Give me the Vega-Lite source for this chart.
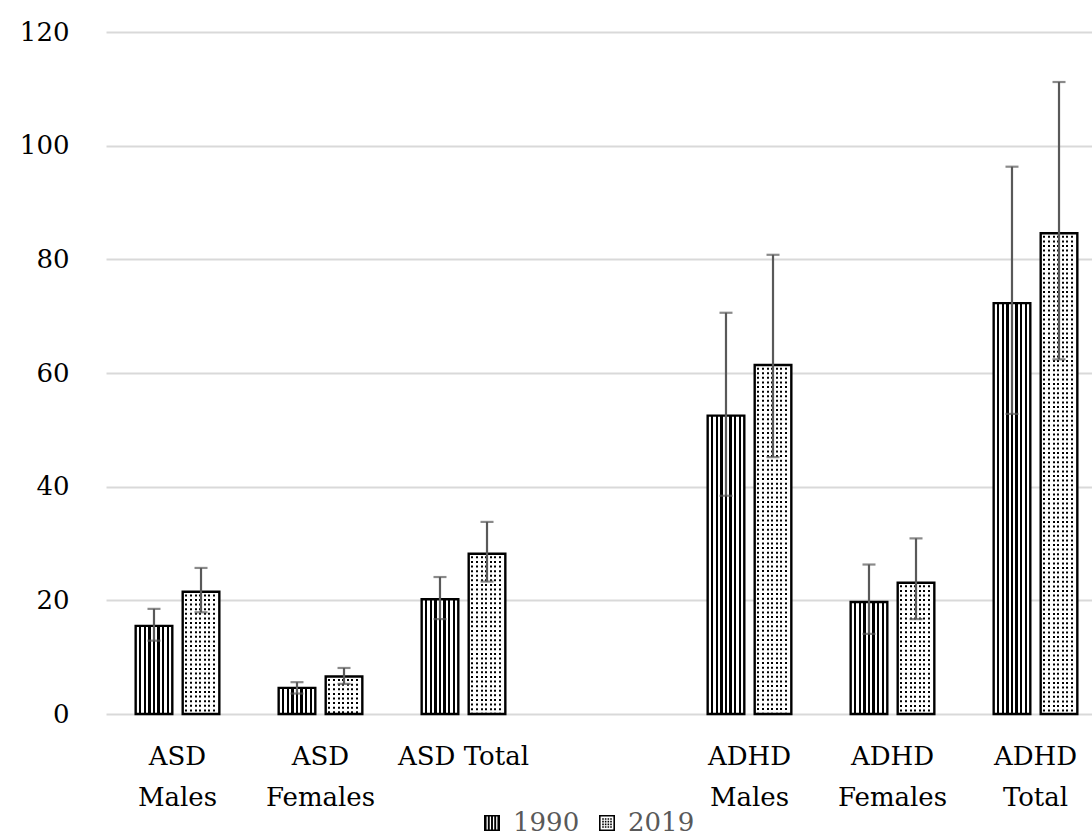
{
  "$schema": "https://vega.github.io/schema/vega-lite/v6.json",
  "autosize": "none",
  "width": 986,
  "height": 682,
  "padding": {"left": 106, "top": 32, "right": 0, "bottom": 124},
  "background": "white",
  "config": {
    "view": {"stroke": null},
    "font": "DejaVu Serif",
    "axis": {"labelFont": "DejaVu Serif", "labelColor": "#000000", "ticks": false, "domain": false, "title": null},
    "legend": {"labelFont": "DejaVu Serif"}
  },
  "data": {
    "values": [
      {"cat": "ASD|Males", "year": "1990", "value": 15.5, "low": 12.9, "high": 18.5},
      {"cat": "ASD|Males", "year": "2019", "value": 21.5, "low": 17.9, "high": 25.7},
      {"cat": "ASD|Females", "year": "1990", "value": 4.6, "low": 3.6, "high": 5.6},
      {"cat": "ASD|Females", "year": "2019", "value": 6.6, "low": 5.3, "high": 8.1},
      {"cat": "ASD Total", "year": "1990", "value": 20.2, "low": 16.7, "high": 24.1},
      {"cat": "ASD Total", "year": "2019", "value": 28.2, "low": 23.3, "high": 33.8},
      {"cat": "ADHD|Males", "year": "1990", "value": 52.5, "low": 38.4, "high": 70.6},
      {"cat": "ADHD|Males", "year": "2019", "value": 61.4, "low": 45.2, "high": 80.8},
      {"cat": "ADHD|Females", "year": "1990", "value": 19.7, "low": 14.1, "high": 26.3},
      {"cat": "ADHD|Females", "year": "2019", "value": 23.1, "low": 16.7, "high": 30.9},
      {"cat": "ADHD|Total", "year": "1990", "value": 72.3, "low": 52.8, "high": 96.3},
      {"cat": "ADHD|Total", "year": "2019", "value": 84.6, "low": 62.4, "high": 111.2}
    ]
  },
  "encoding": {
    "x": {
      "field": "cat", "type": "nominal",
      "scale": {"domain": ["ASD|Males", "ASD|Females", "ASD Total", "gap", "ADHD|Males", "ADHD|Females", "ADHD|Total"], "range": [0, 1001], "paddingInner": 0.415, "paddingOuter": 0.2075},
      "axis": {"labelAngle": 0, "labelFontSize": 26, "labelPadding": 29, "labelLineHeight": 41, "grid": false, "labelExpr": "datum.value == 'gap' ? '' : split(datum.value, '|')"}
    },
    "xOffset": {"field": "year", "type": "nominal", "scale": {"domain": ["1990", "2019"], "paddingInner": 0.221, "paddingOuter": 0}}
  },
  "layer": [
    {
      "mark": {"type": "bar", "strokeWidth": 0},
      "encoding": {
        "y": {"field": "value", "type": "quantitative", "scale": {"domain": [0, 120], "nice": false},
          "axis": {"values": [0, 20, 40, 60, 80, 100, 120], "labelFontSize": 26, "labelPadding": 37, "grid": true, "gridColor": "#d9d9d9", "gridWidth": 2}},
        "fill": {
          "condition": {"test": "datum.year == '1990'", "value":
            {"gradient": "linear", "x1": 0, "x2": 1, "y1": 0, "y2": 0, "stops": [
              {"offset": 0, "color": "white"},
              {"offset": 0.0925, "color": "white"}, {"offset": 0.0925, "color": "black"}, {"offset": 0.1575, "color": "black"}, {"offset": 0.1575, "color": "white"},
              {"offset": 0.2175, "color": "white"}, {"offset": 0.2175, "color": "black"}, {"offset": 0.2825, "color": "black"}, {"offset": 0.2825, "color": "white"},
              {"offset": 0.3425, "color": "white"}, {"offset": 0.3425, "color": "black"}, {"offset": 0.4075, "color": "black"}, {"offset": 0.4075, "color": "white"},
              {"offset": 0.4675, "color": "white"}, {"offset": 0.4675, "color": "black"}, {"offset": 0.5325, "color": "black"}, {"offset": 0.5325, "color": "white"},
              {"offset": 0.5925, "color": "white"}, {"offset": 0.5925, "color": "black"}, {"offset": 0.6575, "color": "black"}, {"offset": 0.6575, "color": "white"},
              {"offset": 0.7175, "color": "white"}, {"offset": 0.7175, "color": "black"}, {"offset": 0.7825, "color": "black"}, {"offset": 0.7825, "color": "white"},
              {"offset": 0.8425, "color": "white"}, {"offset": 0.8425, "color": "black"}, {"offset": 0.9075, "color": "black"}, {"offset": 0.9075, "color": "white"},
              {"offset": 1, "color": "white"}
            ]}},
          "value":
            {"gradient": "linear", "x1": 0, "x2": 1, "y1": 0, "y2": 0, "stops": [
              {"offset": 0, "color": "white"},
              {"offset": 0.0725, "color": "white"}, {"offset": 0.0725, "color": "black"}, {"offset": 0.1275, "color": "black"}, {"offset": 0.1275, "color": "white"},
              {"offset": 0.1975, "color": "white"}, {"offset": 0.1975, "color": "black"}, {"offset": 0.2525, "color": "black"}, {"offset": 0.2525, "color": "white"},
              {"offset": 0.3225, "color": "white"}, {"offset": 0.3225, "color": "black"}, {"offset": 0.3775, "color": "black"}, {"offset": 0.3775, "color": "white"},
              {"offset": 0.4475, "color": "white"}, {"offset": 0.4475, "color": "black"}, {"offset": 0.5025, "color": "black"}, {"offset": 0.5025, "color": "white"},
              {"offset": 0.5725, "color": "white"}, {"offset": 0.5725, "color": "black"}, {"offset": 0.6275, "color": "black"}, {"offset": 0.6275, "color": "white"},
              {"offset": 0.6975, "color": "white"}, {"offset": 0.6975, "color": "black"}, {"offset": 0.7525, "color": "black"}, {"offset": 0.7525, "color": "white"},
              {"offset": 0.8225, "color": "white"}, {"offset": 0.8225, "color": "black"}, {"offset": 0.8775, "color": "black"}, {"offset": 0.8775, "color": "white"},
              {"offset": 1, "color": "white"}
            ]}
        }
      }
    },
    {
      "transform": [{"filter": "datum.year == '2019'"}],
      "mark": {"type": "rule", "color": "white", "strokeWidth": 34, "strokeDash": [2.6, 2.0], "strokeCap": "butt"},
      "encoding": {
        "y": {"field": "value", "type": "quantitative"},
        "y2": {"datum": 0}
      }
    },
    {
      "mark": {"type": "bar", "fill": "transparent", "stroke": "black", "strokeWidth": 2.4},
      "encoding": {
        "y": {"field": "value", "type": "quantitative"}
      }
    },
    {
      "mark": {"type": "point", "filled": true, "color": "black", "opacity": 0, "size": 256},
      "encoding": {
        "y": {"field": "value", "type": "quantitative"},
        "shape": {"field": "year", "type": "nominal",
          "scale": {"domain": ["1990", "2019"], "range": [
            "M-1,-1H1V1H-1Z M-0.68,-0.8V0.8H-0.52V-0.8Z M-0.28,-0.8V0.8H-0.12V-0.8Z M0.12,-0.8V0.8H0.28V-0.8Z M0.52,-0.8V0.8H0.68V-0.8Z",
            "M-1,-1H1V1H-1Z M-0.8,-0.8V0.8H0.8V-0.8Z M-0.6,-0.6h0.2v0.2h-0.2Z M-0.27,-0.6h0.2v0.2h-0.2Z M0.07,-0.6h0.2v0.2h-0.2Z M0.4,-0.6h0.2v0.2h-0.2Z M-0.6,-0.27h0.2v0.2h-0.2Z M-0.27,-0.27h0.2v0.2h-0.2Z M0.07,-0.27h0.2v0.2h-0.2Z M0.4,-0.27h0.2v0.2h-0.2Z M-0.6,0.07h0.2v0.2h-0.2Z M-0.27,0.07h0.2v0.2h-0.2Z M0.07,0.07h0.2v0.2h-0.2Z M0.4,0.07h0.2v0.2h-0.2Z M-0.6,0.4h0.2v0.2h-0.2Z M-0.27,0.4h0.2v0.2h-0.2Z M0.07,0.4h0.2v0.2h-0.2Z M0.4,0.4h0.2v0.2h-0.2Z"
          ]},
          "legend": {"orient": "none", "legendX": 373, "legendY": 778, "direction": "horizontal", "title": null,
            "symbolSize": 256, "symbolFillColor": "black", "symbolStrokeWidth": 0, "symbolOpacity": 1,
            "labelFontSize": 26, "labelColor": "#595959", "labelOffset": 8, "columnPadding": 14,
            "encode": {"symbols": {"update": {"opacity": {"value": 1}, "fill": {"value": "black"}, "fillOpacity": {"value": 1}, "strokeWidth": {"value": 0}}}}
          }
        }
      }
    },
    {
      "mark": {"type": "rule", "color": "#595959", "strokeWidth": 2.2},
      "encoding": {
        "y": {"field": "low", "type": "quantitative"},
        "y2": {"field": "high"}
      }
    },
    {
      "mark": {"type": "tick", "color": "#595959", "thickness": 2.2, "size": 13},
      "encoding": {
        "y": {"field": "low", "type": "quantitative"}
      }
    },
    {
      "mark": {"type": "tick", "color": "#595959", "thickness": 2.2, "size": 13},
      "encoding": {
        "y": {"field": "high", "type": "quantitative"}
      }
    }
  ]
}
